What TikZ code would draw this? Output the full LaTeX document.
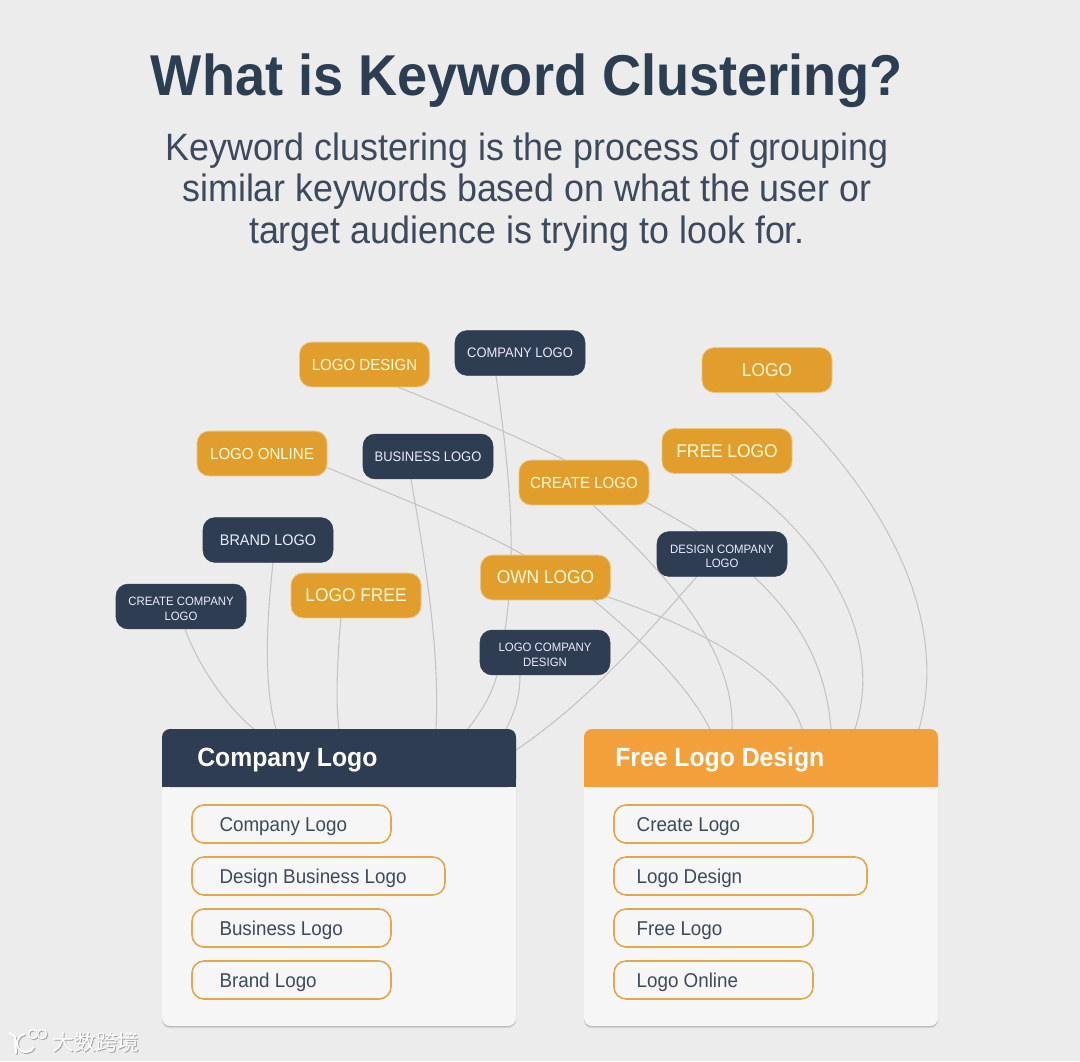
\documentclass[tikz,border=0pt]{standalone}
\usepackage{fontspec}
\setmainfont[FakeStretch=0.94]{Liberation Sans}
\newfontfamily\cjkfont{Noto Sans CJK SC}
\usetikzlibrary{shadows,calc}
\pgfdeclarelayer{bgl}\pgfdeclarelayer{edgel}\pgfsetlayers{bgl,edgel,main}
\definecolor{paper}{HTML}{ECECEC}
\definecolor{navy}{HTML}{2F3D52}
\definecolor{amber}{HTML}{E29E2C}
\definecolor{amberhead}{HTML}{F39F3A}
\definecolor{titleink}{HTML}{2C3E52}
\definecolor{subink}{HTML}{3C4A5C}
\definecolor{wire}{HTML}{C4C4C4}
\definecolor{card}{HTML}{F6F6F6}
\definecolor{pillline}{HTML}{DFA94C}
\newcommand{\tinyup}{\rule{0pt}{9.8pt}}
\tikzset{
  x=0.75pt,y=-0.75pt,
  tag/.style={rounded corners=9pt,minimum width=97.5pt,minimum height=33.6pt,inner sep=0pt,outer sep=0pt,align=center,text=white},
  ambertag/.style={tag,fill=amber,draw=amber!60!white,line width=.6pt,text=white!85!yellow},
  navytag/.style={tag,fill=navy,draw=navy,line width=.4pt,text=white!92!blue},
  bigt/.style={font=\fontsize{13.85pt}{15pt}\selectfont},
  midt/.style={font=\fontsize{12pt}{14pt}\selectfont},
  brandt/.style={font=\fontsize{11.5pt}{14pt}\selectfont},
  smallt/.style={font=\fontsize{10.35pt}{13pt}\selectfont},
  tinyt/.style={font=\fontsize{9.1pt}{10.9pt}\selectfont},
  panel/.style={rounded corners=6pt,fill=card,minimum width=265.5pt,minimum height=222.75pt,inner sep=0pt,outer sep=0pt,
    drop shadow={shadow xshift=0pt,shadow yshift=-.6pt,opacity=.15,fill=black},
    drop shadow={shadow xshift=0pt,shadow yshift=-1.6pt,opacity=.1,fill=black}},
  headtext/.style={font=\bfseries\fontsize{19.75pt}{24pt}\selectfont,text=white,inner sep=0pt,anchor=west},
  item/.style={rounded corners=9pt,draw=pillline,line width=1.2pt,fill=card,text=subink,minimum height=28.5pt,inner ysep=0pt,outer sep=0pt,
    text height=12pt,text depth=1.5pt,font=\fontsize{15pt}{18pt}\selectfont,align=flush left},
  shortitem/.style={item,inner xsep=20.6pt,text width=108pt},
  longitem/.style={item,inner xsep=20.6pt,text width=148.5pt},
  shortitemr/.style={item,inner xsep=17pt,text width=115.25pt},
  longitemr/.style={item,inner xsep=17pt,text width=155.75pt},
  edge/.style={draw=wire,line width=.8pt},
}
\begin{document}
\begin{tikzpicture}
\useasboundingbox (0,0) rectangle (1080,1061);
\begin{pgfonlayer}{bgl}\fill[paper] (0,0) rectangle (1080,1061);\end{pgfonlayer}

\node[text=titleink,font=\bfseries\fontsize{43.2pt}{50pt}\selectfont,inner sep=0pt] (title) at (527,81) {What is Keyword Clustering?};
\node[text=subink,font=\fontsize{28.6pt}{31.4pt}\selectfont,align=center,inner sep=0pt] (sub) at (527,192) {Keyword clustering is the process of grouping\\similar keywords based on what the user or\\target audience is trying to look for.};

% tags
\node[ambertag,midt] (logodesign) at (364.5,364.5) {LOGO DESIGN};
\node[navytag,smallt] (companylogo) at (520,353) {COMPANY LOGO};
\node[ambertag,bigt] (logo) at (767,370) {LOGO};
\node[ambertag,bigt] (freelogo) at (727,451) {FREE LOGO};
\node[ambertag,midt] (logoonline) at (262,453.5) {LOGO ONLINE};
\node[navytag,smallt] (businesslogo) at (428,456.5) {BUSINESS LOGO};
\node[ambertag,midt] (createlogo) at (584,482.5) {CREATE LOGO};
\node[navytag,brandt] (brandlogo) at (268,540) {BRAND LOGO};
\node[navytag,tinyt] (designcompany) at (722,554) {\tinyup DESIGN COMPANY\\LOGO};
\node[ambertag,bigt] (ownlogo) at (545.5,577.5) {OWN LOGO};
\node[ambertag,bigt] (logofree) at (356,595.5) {LOGO FREE};
\node[navytag,tinyt] (createcompany) at (181,606.5) {\tinyup CREATE COMPANY\\LOGO};
\node[navytag,tinyt] (logocompany) at (545,652.5) {\tinyup LOGO COMPANY\\DESIGN};

% panels
\node[panel] (pl) at (339,877.5) {};
\node[panel] (pr) at (761,877.5) {};
\fill[navy,rounded corners=6pt] (162,787) -- (pl.north west) -- (pl.north east) -- (516,787) -- cycle;
\fill[amberhead,rounded corners=6pt] (584,787) -- (pr.north west) -- (pr.north east) -- (938,787) -- cycle;
\fill[navy] (162,770) rectangle (516,787);
\fill[amberhead] (584,770) rectangle (938,787);
\node[headtext] (hl) at (197,760) {Company Logo};
\node[headtext] (hr) at (615,760) {Free Logo Design};

\node[shortitem] (a1) at (291.5,824) {Company Logo};
\node[longitem]  (a2) at (318.5,876) {Design Business Logo};
\node[shortitem] (a3) at (291.5,928) {Business Logo};
\node[shortitem] (a4) at (291.5,980) {Brand Logo};
\node[shortitemr] (b1) at (713.5,824) {Create Logo};
\node[longitemr]  (b2) at (740.5,876) {Logo Design};
\node[shortitemr] (b3) at (713.5,928) {Free Logo};
\node[shortitemr] (b4) at (713.5,980) {Logo Online};

% connectors
\begin{pgfonlayer}{edgel}
\draw[edge] ($(createcompany.south)+(4,0)$) .. controls (200,670) and (230,710) .. ($(pl.north west)+(92,0)$);
\draw[edge] ($(brandlogo.south)+(5,0)$) .. controls (268,610) and (262,680) .. ($(pl.north west)+(114,0)$);
\draw[edge] ($(logofree.south)+(-15,0)$) .. controls (338,650) and (335,700) .. ($(pl.north west)+(177,0)$);
\draw[edge] ($(businesslogo.south)+(-17,0)$) .. controls (425,560) and (440,650) .. ($(pl.north west)+(274,0)$);
\draw[edge] ($(companylogo.south)+(-24,0)$) .. controls (505,440) and (512,500) .. (511,555) .. controls (511,590) and (505,640) .. (497,675) .. controls (490,700) and (478,715) .. ($(pl.north west)+(306,0)$);
\draw[edge] ($(logocompany.south)+(-25,0)$) .. controls (520,700) and (513,715) .. ($(pl.north west)+(344,0)$);
\draw[edge] ($(designcompany.south)+(-25,0)$) .. controls (650,630) and (590,700) .. ($(pl.north east)+(0,21)$);
\draw[edge] ($(ownlogo.south)+(47.5,0)$) .. controls (630,630) and (685,680) .. ($(pr.north west)+(126,0)$);
\draw[edge] ($(createlogo.south)+(9,0)$) .. controls (650,560) and (735,640) .. ($(pr.north west)+(148,0)$);
\draw[edge] ($(logoonline.east)+(0,14)$) .. controls (400,498) and (470,525) .. (520,553) .. controls (560,575) and (580,588) .. (608,597) .. controls (690,625) and (785,670) .. ($(pr.north west)+(218,0)$);
\draw[edge] ($(logodesign.south)+(33,0)$) .. controls (480,420) and (580,462) .. (695,530) .. controls (790,595) and (825,655) .. ($(pr.north west)+(247,0)$);
\draw[edge] ($(freelogo.south)+(3,0)$) .. controls (800,520) and (890,620) .. ($(pr.north west)+(271,0)$);
\draw[edge] ($(logo.south)+(8,0)$) .. controls (860,470) and (955,600) .. ($(pr.north west)+(335,0)$);
\end{pgfonlayer}

% watermark
\foreach \ox/\oy/\col in {1/1/gray!70,0/0/white}{
  \begin{scope}[shift={(\ox,\oy)}]
    \draw[\col,line width=1.5pt,line cap=round] (10,1033) -- (15,1037) -- (16,1053);
    \draw[\col,line width=1.5pt,line cap=round] (24.4,1034.1) arc[start angle=260,end angle=30,radius=9];
    \draw[\col,line width=1pt] (33,1034) circle[radius=4.5];
    \draw[\col,line width=1pt] (42,1034) circle[radius=4.5];
    \node[text=\col,font=\cjkfont\fontsize{16.2pt}{18pt}\selectfont,inner sep=0pt] at (96,1042) {大数跨境};
  \end{scope}
}
\end{tikzpicture}
\end{document}
